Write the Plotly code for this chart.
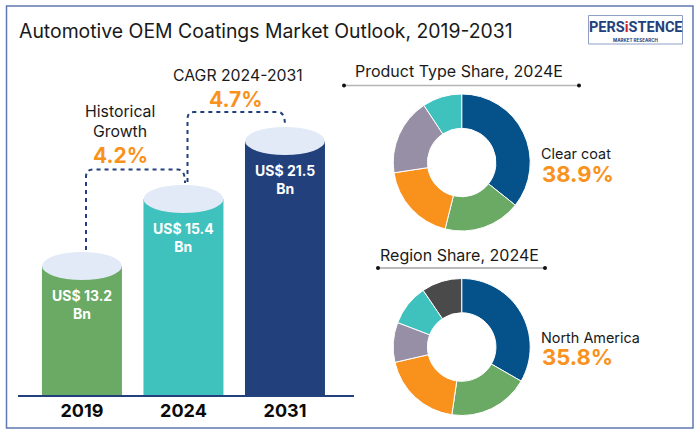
import plotly.graph_objects as go

W, H = 700, 435

years = ["2019", "2024", "2031"]
bar_heights = [129, 196, 254]          # drawn heights
bar_labels = ["US$ 13.2<br>Bn", "US$ 15.4<br>Bn", "US$ 21.5<br>Bn"]
bar_colors = ["#6AAA64", "#3FC1BD", "#22417C"]

product_values = [35.7, 18.2, 18.7, 18.1, 9.3]   # slice angles
product_names = ["Clear coat", "Segment B", "Segment C", "Segment D", "Segment E"]
product_colors = ["#05528A", "#6AAA64", "#F9921C", "#968FA6", "#3FC1BD"]

region_values = [33.3, 19.0, 19.1, 9.4, 9.7, 9.5]
region_names = ["North America", "Region B", "Region C", "Region D", "Region E", "Region F"]
region_colors = ["#05528A", "#6AAA64", "#F9921C", "#968FA6", "#3FC1BD", "#4A4A4A"]

FONT = "Inter"
INK = "#1a1a1a"
ORANGE = "#F9921C"
NAVY = "#22417C"
CAP = "#E1EAF6"


def px(x):
    return x / W


def py(y):
    return 1 - y / H


fig = go.Figure()
fig.add_bar(x=years, y=bar_heights, marker=dict(color=bar_colors, line=dict(width=0)),
            hoverinfo="skip", showlegend=False)

for vals, names, cols, cy in [
    (product_values, product_names, product_colors, 162.5),
    (region_values, region_names, region_colors, 347),
]:
    fig.add_pie(values=vals, labels=names, sort=False, direction="clockwise", rotation=0,
                hole=0.5, textinfo="none", hoverinfo="skip", showlegend=False,
                marker=dict(colors=cols, line=dict(color="white", width=1)),
                domain=dict(x=[px(393.2), px(530.2)], y=[py(cy + 68.5), py(cy - 68.5)]))

shapes = [dict(type="rect", xref="paper", yref="paper", x0=px(6.5), x1=px(693), y0=py(6), y1=py(428),
               line=dict(color="#5F78B2", width=1.5), layer="below")]

for i, h in enumerate(bar_heights):
    shapes.append(dict(type="circle", xref="x", yref="y", xsizemode="pixel", ysizemode="pixel",
                       xanchor=i, yanchor=h, x0=-40, x1=40, y0=-14, y1=14,
                       fillcolor=CAP, line=dict(width=0)))


def pth(points):
    out = []
    for cmd, *xy in points:
        coords = []
        for k in range(0, len(xy), 2):
            coords.append(f"{px(xy[k]):.5f},{py(xy[k+1]):.5f}")
        out.append(cmd + " " + " ".join(coords))
    return " ".join(out)


for pts in [
    [("M", 86, 250), ("L", 86, 177), ("Q", 86, 169.5, 93, 169.5), ("L", 178, 169.5), ("Q", 185, 169.5, 185, 183)],
    [("M", 187.5, 182), ("L", 187.5, 119), ("Q", 187.5, 112, 194, 112), ("L", 278, 112), ("Q", 285, 112, 285, 126)],
]:
    shapes.append(dict(type="path", xref="paper", yref="paper", path=pth(pts),
                       line=dict(color=NAVY, width=2, dash="4px,4px")))

for x0, x1, y, col, wid in [(344, 579, 85.5, "#B5B5B5", 1.5), (378, 545, 268, "#777777", 1.2)]:
    shapes.append(dict(type="line", xref="paper", yref="paper", x0=px(x0), x1=px(x1), y0=py(y), y1=py(y),
                       line=dict(color=col, width=wid)))
    for xd in (x0, x1):
        shapes.append(dict(type="circle", xref="paper", yref="paper", xsizemode="pixel", ysizemode="pixel",
                           xanchor=px(xd), yanchor=py(y), x0=-2, x1=2, y0=-2, y1=2,
                           fillcolor="#111111", line=dict(width=0)))

shapes.append(dict(type="rect", xref="paper", yref="paper", x0=px(588.5), x1=px(682.5), y0=py(15.5), y1=py(44),
                   line=dict(color="#8FA0C6", width=1)))

annots = []


def text(x, y, s, size, color=INK, bold=False, anchor="center", family=FONT):
    annots.append(dict(xref="paper", yref="paper", x=px(x), y=py(y), text=f"<b>{s}</b>" if bold else s,
                       showarrow=False, xanchor=anchor, yanchor="middle", borderpad=0, borderwidth=0,
                       font=dict(family=family, size=size, color=color)))


text(18.5, 31, "Automotive OEM Coatings Market Outlook, 2019-2031", 19.4, anchor="left")
text(237.5, 75, "CAGR 2024-2031", 15.8)
text(236, 99, "4.7%", 21, ORANGE, True)
text(120, 111, "Historical", 15.8)
text(120, 132, "Growth", 15.8)
text(120, 155, "4.2%", 21, ORANGE, True)
text(355, 71, "Product Type Share, 2024E", 16, anchor="left")
text(541, 153, "Clear coat", 14.4, anchor="left")
text(542, 174, "38.9%", 22, ORANGE, True, anchor="left")
text(380, 255, "Region Share, 2024E", 16, anchor="left")
text(541, 337, "North America", 14.4, anchor="left")
text(542, 356.5, "35.8%", 22, ORANGE, True, anchor="left")

text(635.5, 27, 'PERS<span style="color:#D2232A">i</span>STENCE', 14.5, NAVY, True, family="Roboto")
text(635.5, 40.5, "MARKET RESEARCH", 4.5, NAVY, True)

for i, lab in enumerate(bar_labels):
    annots.append(dict(xref="x", yref="y", x=i, y=bar_heights[i], yshift=-19, yanchor="top", showarrow=False,
                       text=f"<b>{lab}</b>", font=dict(family=FONT, size=14, color="white")))

fig.update_layout(
    width=W, height=H, margin=dict(l=0, r=0, t=0, b=0), paper_bgcolor="white", plot_bgcolor="white",
    bargap=0.212, shapes=shapes, annotations=annots, showlegend=False,
    xaxis=dict(domain=[px(18), px(354)], range=[-0.63, 2.68], type="category", showgrid=False, zeroline=False,
               showline=True, linecolor=NAVY, linewidth=2, ticks="", ticklabelstandoff=-2,
               tickfont=dict(family=FONT, size=18, color="#0a0a0a", weight="bold"), fixedrange=True),
    yaxis=dict(domain=[py(395), 1], range=[0, 395], visible=False, fixedrange=True),
)
fig.write_html("out.html", config=dict(displayModeBar=False),
               post_script="document.body.style.margin='0';")
